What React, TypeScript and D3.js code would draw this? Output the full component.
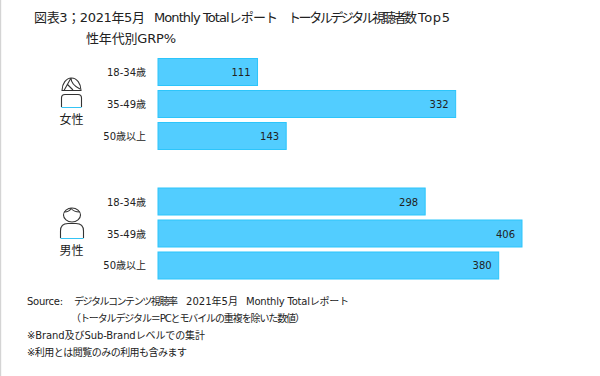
import React from "react";
import * as d3 from "d3";

const ageGroups = ["18-34歳", "35-49歳", "50歳以上"];
const femaleValues = [111, 332, 143];
const maleValues = [298, 406, 380];
const titleParts = ["図表3；2021年5月", "Monthly Totalレポート", "トータルデジタル視聴者数", "Top5"];
const subtitle = "性年代別GRP%";
const sourceParts = ["Source:", "デジタルコンテンツ視聴率", "2021年5月", "Monthly Totalレポート"];
const footnotes = [
  "（トータルデジタル＝PCとモバイルの重複を除いた数値）",
  "※Brand及びSub-Brandレベルでの集計",
  "※利用とは閲覧のみの利用も含みます",
];
const FONT = "'Noto Sans CJK JP','DejaVu Sans',sans-serif";
const LATIN = "'DejaVu Sans','Noto Sans CJK JP',sans-serif";
const INK = "#222";

const x = d3.scaleLinear().domain([0, 406]).range([158, 522]);

function Group({ values, top, label, labelY, children }: any) {
  const y = d3.scaleBand<string>().domain(ageGroups).range([top, top + 91]).paddingInner(0.156).paddingOuter(0);
  return (
    <g>
      {ageGroups.map((a, i) => (
        <g key={a}>
          <rect x={x(0)} y={y(a)} width={x(values[i]) - x(0)} height={y.bandwidth()} fill="#52CDFF" stroke="#2CC5FB" strokeWidth={1} />
          <text x={146} y={y(a)! + y.bandwidth() / 2 + 4} textAnchor="end" fontSize={10} fontFamily={LATIN} fill={INK}>{a}</text>
          <text x={x(values[i]) - 7} y={y(a)! + y.bandwidth() / 2 + 4} textAnchor="end" fontSize={10} fontFamily={LATIN} fill={INK}>{values[i]}</text>
        </g>
      ))}
      {children}
      <text x={71.5} y={labelY} textAnchor="middle" fontSize={12} fontFamily={FONT} fill={INK}>{label}</text>
    </g>
  );
}

const titleX = [[34, 111], [154, 124], [288, 129], [418, 32]];
const sourceX = [[27, 36], [74, 104], [186, 52], [246, 103]];

export default function App() {
  return (
    <svg width={600} height={376} style={{ position: "absolute", left: 0, top: 0, background: "#fff" }}>
      <rect x={0} y={0} width={1.2} height={376} fill="#d4d4d4" />
      {titleParts.map((t, i) => (
        <text key={t} x={titleX[i][0]} y={22} fontSize={13} fontFamily={LATIN} fill={INK} textLength={titleX[i][1]} lengthAdjust="spacing">{t}</text>
      ))}
      <text x={86} y={43} fontSize={13} fontFamily={LATIN} fill={INK} textLength={90} lengthAdjust="spacing">{subtitle}</text>
      <Group values={femaleValues} top={58.5} label="女性" labelY={124}>
        <g fill="none" stroke="#333" strokeWidth={1.1}>
          <path d="M62 90.5 A9.5 12.5 0 0 1 81 90.5 Z" />
          <path d="M71 78 L64 90.5 M71 78 C71 84 76 87 80 89 M67 84 L73 90" />
          <path d="M61.5 107 V98 Q61.5 94.5 65 94.5 H78 Q81.5 94.5 81.5 98 V107" />
        </g>
        <path d="M61.5 107.5 H81.5" stroke="#35C4F5" strokeWidth={1} />
      </Group>
      <Group values={maleValues} top={188} label="男性" labelY={255}>
        <g fill="none" stroke="#333" strokeWidth={1.1}>
          <ellipse cx={72} cy={215} rx={8.5} ry={7} />
          <path d="M64.5 212 Q69 212 71 208.5 Q74 212 79.5 212" />
          <path d="M60.5 238 V231 Q60.5 223.5 68 223.5 H76 Q83.5 223.5 83.5 231 V238" />
        </g>
        <path d="M60.5 238.5 H83.5" stroke="#35C4F5" strokeWidth={1} />
      </Group>
      {sourceParts.map((t, i) => (
        <text key={t} x={sourceX[i][0]} y={305} fontSize={10} fontFamily={LATIN} fill={INK} textLength={sourceX[i][1]} lengthAdjust="spacing">{t}</text>
      ))}
      <text x={71} y={322} fontSize={10} fontFamily={LATIN} fill={INK} textLength={234} lengthAdjust="spacing">{footnotes[0]}</text>
      <text x={27} y={339} fontSize={10} fontFamily={LATIN} fill={INK} textLength={178} lengthAdjust="spacing">{footnotes[1]}</text>
      <text x={27} y={356} fontSize={10} fontFamily={LATIN} fill={INK} textLength={160} lengthAdjust="spacing">{footnotes[2]}</text>
    </svg>
  );
}
